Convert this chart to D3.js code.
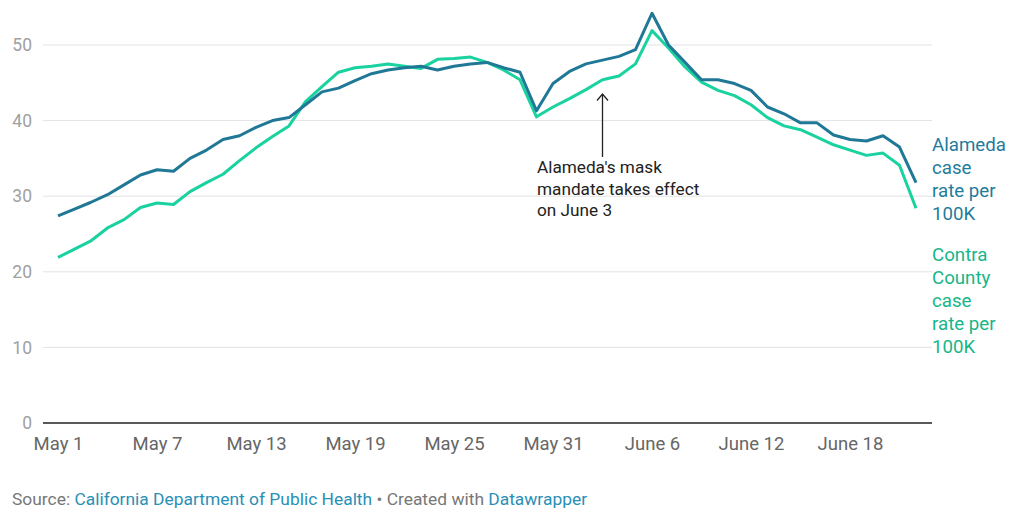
<!DOCTYPE html>
<html>
<head>
<meta charset="utf-8">
<script src="https://cdn.jsdelivr.net/npm/d3@7"></script>
<style>
  body { margin: 0; background: #fff; }
  svg { font-family: Roboto, "Noto Sans", sans-serif; }
</style>
</head>
<body>
<svg id="chart" width="1013" height="513"></svg>
<script>
// Data: daily case rate per 100K, May 1 – June 22
const startDate = new Date(2021, 4, 1);
const alameda = [27.4, 28.3, 29.2, 30.2, 31.5, 32.8, 33.5, 33.3, 35.0, 36.1,
  37.5, 38.0, 39.1, 40.0, 40.4, 42.1, 43.8, 44.3, 45.3, 46.2,
  46.7, 47.0, 47.2, 46.7, 47.2, 47.5, 47.7, 47.0, 46.4, 41.3,
  44.9, 46.5, 47.5, 48.0, 48.5, 49.4, 54.2, 50.0, 47.7, 45.4,
  45.4, 44.9, 44.0, 41.8, 40.9, 39.7, 39.7, 38.1, 37.5, 37.3,
  38.0, 36.5, 31.8];
const contra = [21.9, 23.0, 24.1, 25.8, 26.9, 28.5, 29.1, 28.9, 30.6, 31.8,
  32.9, 34.7, 36.4, 37.9, 39.3, 42.5, 44.5, 46.4, 47.0, 47.2,
  47.5, 47.2, 46.9, 48.1, 48.2, 48.4, 47.7, 46.7, 45.4, 40.5,
  41.8, 42.9, 44.1, 45.4, 45.9, 47.5, 51.9, 49.6, 47.1, 45.1,
  44.0, 43.3, 42.1, 40.4, 39.3, 38.8, 37.8, 36.8, 36.1, 35.4,
  35.7, 34.1, 28.4];
const yTicks = [0, 10, 20, 30, 40, 50];
const xTickLabels = ["May 1", "May 7", "May 13", "May 19", "May 25", "May 31", "June 6", "June 12", "June 18"];
const alamedaLabel = ["Alameda", "case", "rate per", "100K"];
const contraLabel = ["Contra", "County", "case", "rate per", "100K"];
const noteLines = ["Alameda's mask", "mandate takes effect", "on June 3"];

const COLORS = { alameda: "#1f7896", contra: "#19d29f", alamedaText: "#1f7c9c", contraText: "#17b68a" };

const dayMs = 24 * 3600 * 1000;
const dateOf = i => new Date(startDate.getTime() + i * dayMs);

const svg = d3.select("#chart");
const x = d3.scaleTime().domain([dateOf(0), dateOf(alameda.length - 1)]).range([58, 916]);
const y = d3.scaleLinear().domain([0, 50]).range([423, 45]);
const gridLeft = 43, gridRight = 932;

// gridlines
svg.append("g").selectAll("line")
  .data(yTicks.filter(d => d > 0))
  .enter().append("line")
  .attr("x1", gridLeft).attr("x2", gridRight)
  .attr("y1", d => y(d)).attr("y2", d => y(d))
  .attr("stroke", "#e3e3e3").attr("stroke-width", 1);

// y tick labels
svg.append("g").selectAll("text")
  .data(yTicks)
  .enter().append("text")
  .attr("x", 32).attr("y", d => y(d)).attr("dy", "0.35em")
  .attr("text-anchor", "end")
  .attr("fill", "#a0a0a0").attr("font-size", 17.5)
  .text(d => d);

// baseline
svg.append("line")
  .attr("x1", gridLeft).attr("x2", gridRight)
  .attr("y1", y(0)).attr("y2", y(0))
  .attr("stroke", "#222").attr("stroke-width", 1.3);

// x axis labels
const xAxis = d3.axisBottom(x)
  .tickValues(xTickLabels.map((_, i) => dateOf(i * 6)))
  .tickFormat((d, i) => xTickLabels[i])
  .tickSize(0).tickPadding(13.5);
const xg = svg.append("g").attr("transform", "translate(0," + y(0) + ")").call(xAxis);
xg.select(".domain").remove();
xg.selectAll("text").attr("fill", "#666").attr("font-size", 18.5)
  .attr("font-family", "Roboto, sans-serif");

// lines
const line = d3.line().x((d, i) => x(dateOf(i))).y(d => y(d));
svg.append("path").datum(contra)
  .attr("d", line).attr("fill", "none")
  .attr("stroke", COLORS.contra).attr("stroke-width", 3).attr("stroke-linejoin", "round");
svg.append("path").datum(alameda)
  .attr("d", line).attr("fill", "none")
  .attr("stroke", COLORS.alameda).attr("stroke-width", 3).attr("stroke-linejoin", "round");

// series labels
function seriesLabel(lines, top, color) {
  svg.append("g").selectAll("text")
    .data(lines).enter().append("text")
    .attr("x", 932).attr("y", (d, i) => top + i * 23)
    .attr("dy", "0.35em")
    .attr("fill", color).attr("font-size", 18.7)
    .text(d => d);
}
seriesLabel(alamedaLabel, 144, COLORS.alamedaText);
seriesLabel(contraLabel, 254, COLORS.contraText);

// annotation
const arrowX = x(dateOf(33));
const ann = svg.append("g").attr("stroke", "#222").attr("stroke-width", 1.3).attr("fill", "none");
ann.append("line")
  .attr("x1", arrowX).attr("x2", arrowX)
  .attr("y1", 157).attr("y2", 94);
ann.append("path")
  .attr("d", "M" + (arrowX - 5.5) + ",100.5 L" + arrowX + ",94 L" + (arrowX + 5.5) + ",100.5");
svg.append("g").selectAll("text")
  .data(noteLines).enter().append("text")
  .attr("x", 537).attr("y", (d, i) => 167 + i * 21.5)
  .attr("dy", "0.35em")
  .attr("fill", "#222").attr("font-size", 17.2)
  .text(d => d);

// footer
const foot = svg.append("text").attr("x", 12).attr("y", 505).attr("font-size", 17.4).attr("fill", "#777");
foot.append("tspan").text("Source: ");
foot.append("tspan").attr("fill", "#2a8fb5").text("California Department of Public Health");
foot.append("tspan").text(" \u2022 Created with ");
foot.append("tspan").attr("fill", "#2a8fb5").text("Datawrapper");
</script>
</body>
</html>
